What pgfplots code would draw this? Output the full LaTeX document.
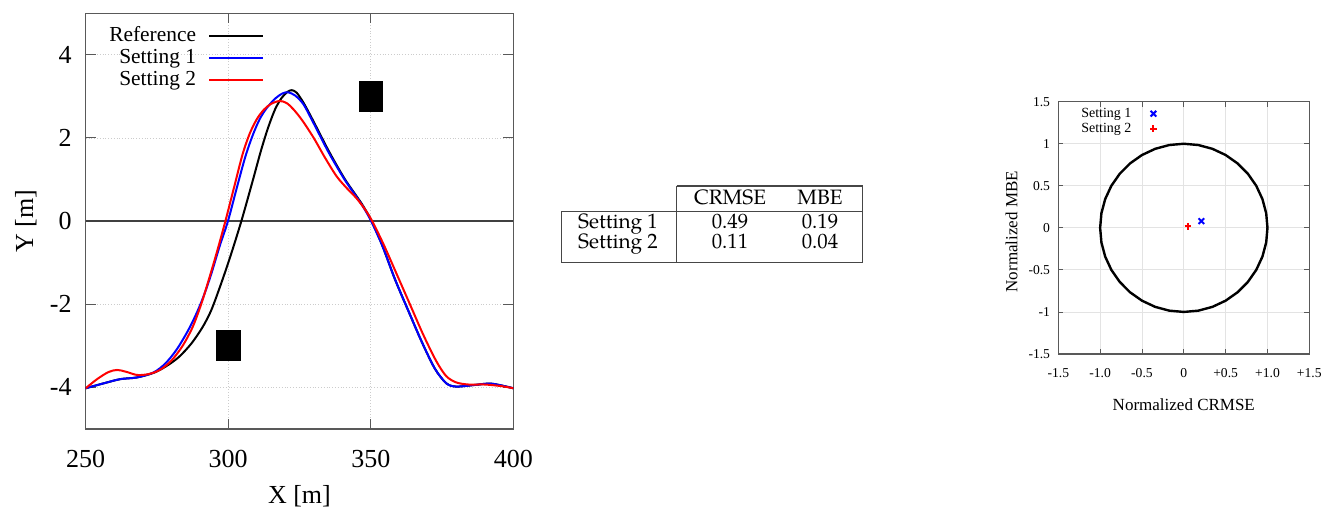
\documentclass[border=0pt]{standalone}
\usepackage{fontspec}
\setmainfont{Liberation Serif}
\newfontfamily\pala{texgyrepagella-regular.otf}
\usepackage{pgfplots}
\pgfplotsset{compat=1.18}

\definecolor{frame}{gray}{0.35}

\begin{document}
\begin{tikzpicture}[x=1pt,y=1pt]
\useasboundingbox (0,0) rectangle (666,256);

% ---- left: profiles ----
\begin{axis}[
  at={(42.85pt,41.5pt)}, anchor=south west,
  scale only axis, width=213.8pt, height=207.85pt,
  xmin=250, xmax=400, ymin=-5, ymax=5,
  xtick={250,300,350,400}, ytick={-4,-2,0,2,4},
  grid=major, major grid style={densely dotted, gray!40},
  axis line style={frame, line width=0.6pt},
  major tick length=5pt, tick style={frame, line width=0.5pt},
  /pgf/number format/assume math mode=true,
  ticklabel style={font=\fontsize{13}{15}\selectfont},
  xticklabel style={yshift=-7pt}, yticklabel style={xshift=-3.5pt},
  extra y ticks={0}, extra y tick labels={},
  extra y tick style={grid=major, major grid style={solid, black!75, line width=0.7pt}, major tick length=0pt},
  xlabel={X [m]}, ylabel={Y [m]},
  label style={font=\fontsize{13}{15}\selectfont},
  xlabel style={at={(axis description cs:0.5,-0.161)}, anchor=center},
  ylabel style={at={(axis description cs:-0.14,0.5)}, anchor=center},
  legend style={draw=none, fill=none, at={(0.418,0.968)}, anchor=north east,
    inner sep=0pt, row sep=1.4pt, column sep=6pt,
    font=\fontsize{10.7}{12}\selectfont,
    nodes={inner sep=0pt, text height=7.3pt, text depth=2.2pt}},
  legend cell align=right, legend plot pos=right,
  legend image code/.code={\draw[#1] (0pt,0pt) -- (27pt,0pt);},
]
\addplot[black, line width=1pt, smooth] coordinates {
(250,-4.02) (256.4,-3.90) (262.2,-3.80) (268,-3.76) (273.8,-3.65) (278,-3.50)
(282.5,-3.28) (287,-2.95) (291,-2.55) (294,-2.15) (297,-1.60) (300.5,-0.90)
(304.6,0) (308.5,0.95) (311.5,1.70) (314,2.25) (316.5,2.70) (318.8,2.97)
(320.8,3.11) (322.3,3.15) (324,3.09) (326.3,2.86) (329,2.52) (332,2.12)
(335,1.72) (338,1.35) (341,1.00) (344,0.70) (347,0.40) (350,0.04)
(354,-0.58) (358.5,-1.40) (363.2,-2.16) (368,-2.92) (372.5,-3.55)
(376.5,-3.90) (380,-3.98) (386.6,-3.94) (392.4,-3.91) (400,-4.02)};
\addlegendentry{Reference}
\addplot[blue, line width=1pt, smooth] coordinates {
(250,-4.02) (256.4,-3.90) (262.2,-3.80) (268,-3.76) (273.8,-3.64) (278,-3.42)
(282,-3.08) (286,-2.62) (289,-2.20) (291.5,-1.78) (294,-1.28) (297,-0.60)
(299.9,0) (303,0.80) (306,1.55) (308.5,2.05) (311,2.45) (313.5,2.72)
(316.5,2.95) (319,3.07) (321,3.10) (323.5,3.02) (326.3,2.82) (329,2.48)
(332,2.08) (335,1.68) (338,1.32) (341,0.98) (344,0.68) (347,0.38) (350,0.02)
(354,-0.58) (358.5,-1.40) (363.2,-2.16) (368,-2.92) (372.5,-3.55)
(376.5,-3.90) (380,-3.98) (386.6,-3.94) (392.4,-3.91) (400,-4.02)};
\addlegendentry{Setting 1}
\addplot[red, line width=1pt, smooth] coordinates {
(250,-4.02) (254,-3.80) (258,-3.63) (261,-3.58) (264,-3.62) (268,-3.70)
(272,-3.68) (276,-3.58) (280,-3.36) (284,-3.00) (287.5,-2.55) (290.5,-2.00)
(293,-1.45) (296,-0.75) (299,0) (302,0.80) (305,1.60) (307.5,2.10)
(310,2.45) (312.5,2.68) (315,2.82) (318,2.89) (320.5,2.84) (323,2.68)
(326,2.42) (330,2.00) (334,1.52) (338,1.08) (341.5,0.80) (345,0.55)
(348,0.28) (350.5,0) (354.5,-0.56) (359.2,-1.29) (363.8,-2.01)
(368.4,-2.73) (373,-3.37) (376.5,-3.73) (380,-3.88) (384.3,-3.93)
(390,-3.93) (395.9,-3.97) (400,-4.02)};
\addlegendentry{Setting 2}
\addplot[only marks, mark=square*, mark size=7.5pt, mark options={xscale=0.78, fill=black, draw=black}, forget plot]
  coordinates {(300,-3) (350,3)};
\end{axis}

% ---- middle: table ----
\begin{scope}[gray!55!black, line width=0.7pt]
\draw (338.35,163) -- (431.15,163) -- (431.15,124.65) -- (280.85,124.65) -- (280.85,150.15) -- (431.15,150.15);
\draw (338.35,163) -- (338.35,124.65);
\end{scope}
\begin{scope}[every node/.style={anchor=base, inner sep=0pt, font=\pala\fontsize{10.4}{12}\selectfont}]
\node at (365,153.5) {CRMSE};
\node at (410,153.5) {MBE};
\node at (309,141.5) {Setting 1};
\node at (365,141.5) {0.49};
\node at (410,141.5) {0.19};
\node at (309,131.5) {Setting 2};
\node at (365,131.5) {0.11};
\node at (410,131.5) {0.04};
\end{scope}

% ---- right: normalized target diagram ----
\begin{axis}[
  at={(529.15pt,79pt)}, anchor=south west,
  scale only axis, width=125.5pt, height=126.15pt,
  xmin=-1.5, xmax=1.5, ymin=-1.5, ymax=1.5,
  xtick={-1.5,-1,-0.5,0,0.5,1,1.5},
  xticklabels={-1.5,-1.0,-0.5,0,+0.5,+1.0,+1.5},
  ytick={-1.5,-1,-0.5,0,0.5,1,1.5},
  yticklabels={-1.5,-1,-0.5,0,0.5,1,1.5},
  grid=major, major grid style={gray!22, line width=0.4pt},
  axis line style={frame, line width=0.6pt},
  major tick length=2.5pt, tick style={frame, line width=0.4pt},
  ticklabel style={font=\fontsize{6.8}{8}\selectfont},
  xticklabel style={yshift=-3.5pt}, yticklabel style={xshift=-0.6pt},
  xlabel={Normalized CRMSE}, ylabel={Normalized MBE},
  label style={font=\fontsize{8.5}{10}\selectfont},
  xlabel style={at={(axis description cs:0.5,-0.202)}, anchor=center},
  ylabel style={at={(axis description cs:-0.186,0.485)}, anchor=center},
  legend style={draw=none, fill=none, at={(0.09,0.98)}, anchor=north west,
    inner sep=0pt, row sep=1pt, column sep=9.3pt,
    font=\fontsize{7}{8}\selectfont,
    nodes={inner sep=0pt, text height=5pt, text depth=1.5pt}},
  legend cell align=left, legend plot pos=right,
]
\addplot[black, line width=1.2pt, forget plot] coordinates {
(1,0) (0.9848,0.1736) (0.9397,0.3420) (0.8660,0.5) (0.7660,0.6428) (0.6428,0.7660)
(0.5,0.8660) (0.3420,0.9397) (0.1736,0.9848) (0,1) (-0.1736,0.9848) (-0.3420,0.9397)
(-0.5,0.8660) (-0.6428,0.7660) (-0.7660,0.6428) (-0.8660,0.5) (-0.9397,0.3420)
(-0.9848,0.1736) (-1,0) (-0.9848,-0.1736) (-0.9397,-0.3420) (-0.8660,-0.5)
(-0.7660,-0.6428) (-0.6428,-0.7660) (-0.5,-0.8660) (-0.3420,-0.9397)
(-0.1736,-0.9848) (0,-1) (0.1736,-0.9848) (0.3420,-0.9397) (0.5,-0.8660)
(0.6428,-0.7660) (0.7660,-0.6428) (0.8660,-0.5) (0.9397,-0.3420)
(0.9848,-0.1736) (1,0)};
\addplot[only marks, blue, mark=x, mark size=2pt, line width=1pt] coordinates {(0.21,0.08)};
\addlegendentry{Setting 1}
\addplot[only marks, red, mark=+, mark size=1.7pt, line width=1pt] coordinates {(0.05,0.02)};
\addlegendentry{Setting 2}
\end{axis}
\end{tikzpicture}
\end{document}
